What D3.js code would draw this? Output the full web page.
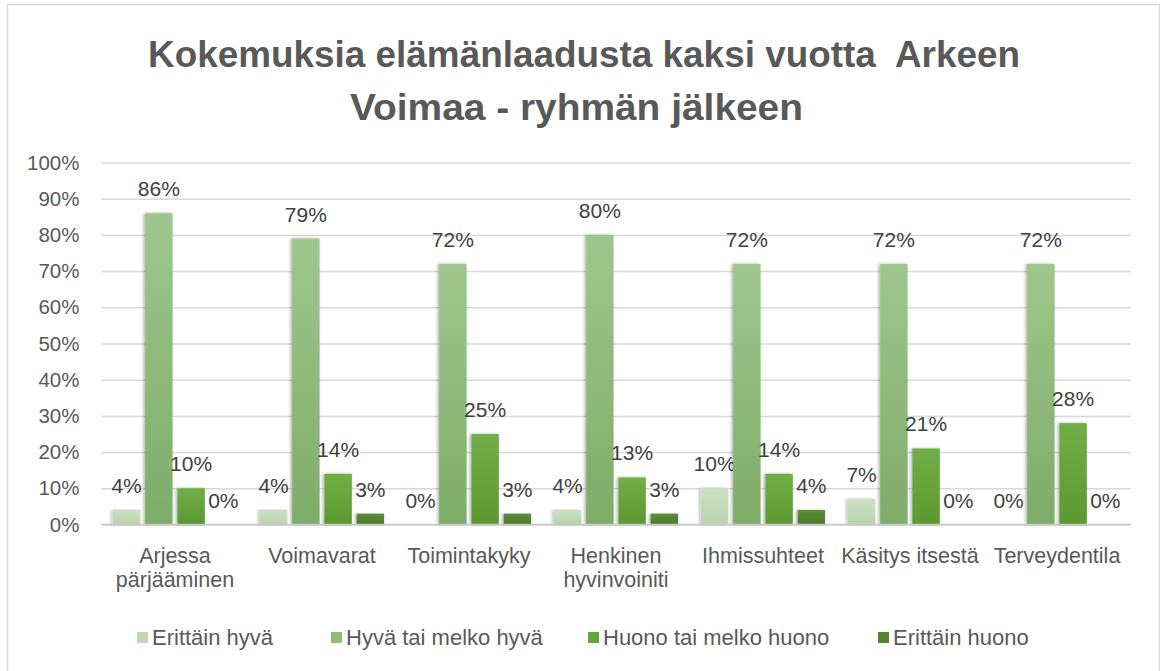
<!DOCTYPE html>
<html><head><meta charset="utf-8">
<script src="https://cdn.jsdelivr.net/npm/d3@7/dist/d3.min.js"></script>
<style>body{margin:0;background:#fff}svg{display:block;font-family:"Liberation Sans",Arial,sans-serif}</style>
</head><body><svg id="c" width="1160" height="671"></svg>
<script>
const categories = ["Arjessa\npärjääminen","Voimavarat","Toimintakyky","Henkinen\nhyvinvoiniti","Ihmissuhteet","Käsitys itsestä","Terveydentila"];
const seriesNames = ["Erittäin hyvä","Hyvä tai melko hyvä","Huono tai melko huono","Erittäin huono"];
const erittainHyva = [4,4,0,4,10,7,0];
const hyvaTaiMelkoHyva = [86,79,72,80,72,72,72];
const huonoTaiMelkoHuono = [10,14,25,13,14,21,28];
const erittainHuono = [0,3,3,3,4,0,0];
const yTicks = [0,10,20,30,40,50,60,70,80,90,100];
const titleLines = ["Kokemuksia elämänlaadusta kaksi vuotta  Arkeen","Voimaa - ryhmän jälkeen"];

const values = [erittainHyva, hyvaTaiMelkoHyva, huonoTaiMelkoHuono, erittainHuono];
const gradStops = [["#cce1c2","#b9d3ad"],["#9fc78d","#7eac69"],["#72ae48","#5b992f"],["#5e8f3c","#4a7829"]];
const legendColors = ["#c0d8b4","#8fbe7b","#66a53c","#548434"];

const svg = d3.select("#c");
const defs = svg.append("defs");
gradStops.forEach((s,i)=>{
  const g = defs.append("linearGradient").attr("id","g"+i).attr("x1",0).attr("y1",0).attr("x2",0).attr("y2",1);
  g.append("stop").attr("offset","0%").attr("stop-color",s[0]);
  g.append("stop").attr("offset","100%").attr("stop-color",s[1]);
});
const f = defs.append("filter").attr("id","sh").attr("x","-30%").attr("y","-5%").attr("width","160%").attr("height","110%");
f.append("feDropShadow").attr("dx",-1.5).attr("dy",0).attr("stdDeviation",1.8).attr("flood-color","#000").attr("flood-opacity",0.3);

svg.append("rect").attr("x",7.5).attr("y",4.5).attr("width",1152).attr("height",670)
  .attr("fill","#fff").attr("stroke","#d9d9d9").attr("stroke-width",1.5);

const y = d3.scaleLinear().domain([0,100]).range([524.5,162.5]);
const x0 = d3.scaleBand().domain(categories).range([101.5,1130.5]).padding(0);
const x1 = d3.scaleBand().domain(seriesNames).range([9,138]).paddingInner(0.15).paddingOuter(0.075);

// title
titleLines.forEach((t,i)=>{
  const widths=[872,453], cx=[584,576.5], by=[67,120];
  svg.append("text").attr("x",cx[i]).attr("y",by[i]).attr("text-anchor","middle")
    .style("white-space","pre").attr("xml:space","preserve")
    .attr("font-size",36).attr("font-weight","bold").attr("fill","#595959")
    .attr("textLength",widths[i]).attr("lengthAdjust","spacingAndGlyphs").text(t);
});

// grid
const yAxis = d3.axisLeft(y).tickValues(yTicks).tickSize(-(1131-101.5)).tickFormat(d=>d+"%").tickPadding(22);
const ga = svg.append("g").attr("transform","translate(101.5,0)").call(yAxis);
ga.select(".domain").remove();
ga.selectAll(".tick line").attr("stroke","#d9d9d9").attr("stroke-width",1.5);
ga.selectAll(".tick text").attr("font-size",20.5).attr("fill","#595959").attr("font-family","Liberation Sans, Arial, sans-serif");

// bars
const groups = svg.append("g").selectAll("g").data(categories).join("g")
  .attr("transform",d=>`translate(${x0(d)},0)`);
seriesNames.forEach((s,si)=>{
  groups.append("rect")
    .attr("x",x1(s)).attr("width",x1.bandwidth())
    .attr("y",(d,ci)=>y(values[si][ci])).attr("height",(d,ci)=>y(0)-y(values[si][ci]))
    .attr("fill",`url(#g${si})`).attr("filter","url(#sh)");
  groups.append("text")
    .attr("x",x1(s)+x1.bandwidth()/2).attr("y",(d,ci)=>y(values[si][ci])-17)
    .attr("text-anchor","middle").attr("font-size",21).attr("fill","#404040")
    .text((d,ci)=>values[si][ci]+"%");
});

// x axis line
svg.append("line").attr("x1",101.5).attr("x2",1131).attr("y1",y(0)).attr("y2",y(0))
  .attr("stroke","#c8c8c8").attr("stroke-width",1.5);

// category labels
groups.each(function(d){
  const lines = d.split("\n");
  const t = d3.select(this).append("text").attr("text-anchor","middle").attr("font-size",21.5).attr("fill","#595959");
  lines.forEach((l,i)=>t.append("tspan").attr("x",x0.bandwidth()/2).attr("y",563+i*24).text(l));
});

// legend
const legendX = [137,331,588,878];
seriesNames.forEach((s,i)=>{
  svg.append("rect").attr("x",legendX[i]).attr("y",632).attr("width",11).attr("height",11).attr("fill",legendColors[i]);
  svg.append("text").attr("x",legendX[i]+15).attr("y",645).attr("font-size",22).attr("fill","#595959").text(s);
});
</script></body></html>
